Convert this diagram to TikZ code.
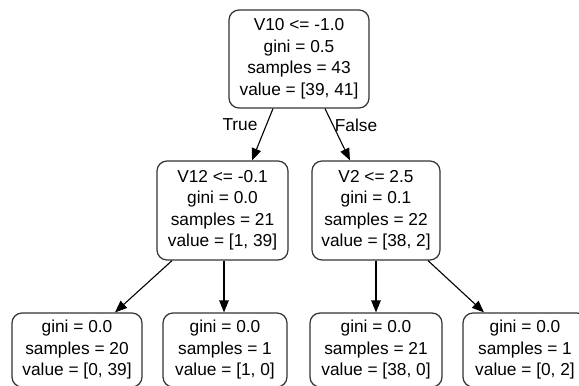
\documentclass[tikz,border=0pt]{standalone}
\usepackage{fontspec}
\setmainfont{Liberation Sans}
\usetikzlibrary{arrows.meta}
\begin{document}
\begin{tikzpicture}[x=1pt,y=-1pt,
  treenode/.style={draw=black!80, line width=1.2pt, rounded corners=10pt, inner sep=0pt,
    align=center, font=\fontsize{17.3}{21.5}\selectfont},
  edge/.style={line width=1.1pt, -{Triangle[length=12pt,width=9.5pt]}},
  lbl/.style={font=\fontsize{17.3}{21.5}\selectfont, inner sep=0pt}]
\useasboundingbox (0,0) rectangle (579,386);
\clip (0,0) rectangle (579,386);
\fill[white] (0,0) rectangle (579,386);
\node[treenode, minimum width=140pt, minimum height=98pt] (root) at (299,59)
  {V10 <= -1.0\\gini = 0.5\\samples = 43\\value = [39, 41]};
\node[treenode, minimum width=131pt, minimum height=99pt] (ml) at (222.5,210.5)
  {V12 <= -0.1\\gini = 0.0\\samples = 21\\value = [1, 39]};
\node[treenode, minimum width=128pt, minimum height=99pt] (mr) at (376,210.5)
  {V2 <= 2.5\\gini = 0.1\\samples = 22\\value = [38, 2]};
\node[treenode, minimum width=130pt, minimum height=74pt] (l1) at (77,350)
  {gini = 0.0\\samples = 20\\value = [0, 39]};
\node[treenode, minimum width=124pt, minimum height=74pt] (l2) at (225,350)
  {gini = 0.0\\samples = 1\\value = [1, 0]};
\node[treenode, minimum width=132pt, minimum height=74pt] (l3) at (376,350)
  {gini = 0.0\\samples = 21\\value = [38, 0]};
\node[treenode, minimum width=124pt, minimum height=74pt] (l4) at (525,350)
  {gini = 0.0\\samples = 1\\value = [0, 2]};
\draw[edge] ([xshift=-26pt]root.south) -- ([xshift=29.5pt]ml.north);
\draw[edge] ([xshift=26pt]root.south) -- ([xshift=-26pt]mr.north);
\draw[edge] ([xshift=-50.5pt]ml.south) -- ([xshift=38pt]l1.north);
\draw[edge] ([xshift=1.5pt]ml.south) -- ([xshift=-1pt]l2.north);
\draw[edge] (mr.south) -- (l3.north);
\draw[edge] ([xshift=52pt]mr.south) -- ([xshift=-41pt]l4.north);
\node[lbl] (tlabel) at (240,125) {True};
\node[lbl] (flabel) at (356,125) {False};
\end{tikzpicture}
\end{document}
